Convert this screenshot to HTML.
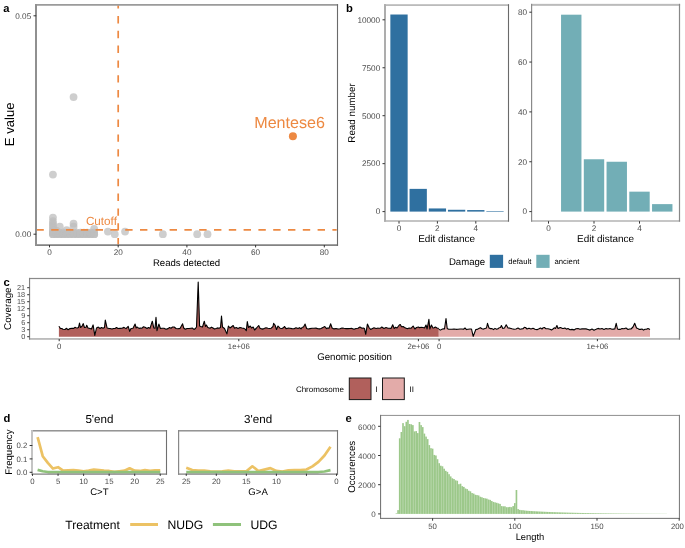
<!DOCTYPE html>
<html><head><meta charset="utf-8"><style>
html,body{margin:0;padding:0;background:#fff;}
svg{display:block;font-family:"Liberation Sans", sans-serif;text-rendering:geometricPrecision;will-change:transform;}
</style></head><body>
<svg width="685" height="548" viewBox="0 0 685 548">
<rect width="685" height="548" fill="#fff"/>
<text x="3.20" y="11.80" font-size="11.2" text-anchor="start" fill="#000" font-weight="bold">a</text>
<circle cx="73.55" cy="97.04" r="3.9" fill="#BDBDBD" fill-opacity="0.75"/>
<circle cx="52.94" cy="174.58" r="3.9" fill="#BDBDBD" fill-opacity="0.75"/>
<circle cx="52.94" cy="234.20" r="3.9" fill="#BDBDBD" fill-opacity="0.75"/>
<circle cx="52.94" cy="234.20" r="3.9" fill="#BDBDBD" fill-opacity="0.75"/>
<circle cx="52.94" cy="232.67" r="3.9" fill="#BDBDBD" fill-opacity="0.75"/>
<circle cx="56.37" cy="234.20" r="3.9" fill="#BDBDBD" fill-opacity="0.75"/>
<circle cx="56.37" cy="234.20" r="3.9" fill="#BDBDBD" fill-opacity="0.75"/>
<circle cx="56.37" cy="232.67" r="3.9" fill="#BDBDBD" fill-opacity="0.75"/>
<circle cx="59.80" cy="234.20" r="3.9" fill="#BDBDBD" fill-opacity="0.75"/>
<circle cx="59.80" cy="234.20" r="3.9" fill="#BDBDBD" fill-opacity="0.75"/>
<circle cx="59.80" cy="232.67" r="3.9" fill="#BDBDBD" fill-opacity="0.75"/>
<circle cx="63.24" cy="234.20" r="3.9" fill="#BDBDBD" fill-opacity="0.75"/>
<circle cx="63.24" cy="234.20" r="3.9" fill="#BDBDBD" fill-opacity="0.75"/>
<circle cx="63.24" cy="232.67" r="3.9" fill="#BDBDBD" fill-opacity="0.75"/>
<circle cx="66.67" cy="234.20" r="3.9" fill="#BDBDBD" fill-opacity="0.75"/>
<circle cx="66.67" cy="234.20" r="3.9" fill="#BDBDBD" fill-opacity="0.75"/>
<circle cx="66.67" cy="232.67" r="3.9" fill="#BDBDBD" fill-opacity="0.75"/>
<circle cx="70.11" cy="234.20" r="3.9" fill="#BDBDBD" fill-opacity="0.75"/>
<circle cx="70.11" cy="234.20" r="3.9" fill="#BDBDBD" fill-opacity="0.75"/>
<circle cx="70.11" cy="232.67" r="3.9" fill="#BDBDBD" fill-opacity="0.75"/>
<circle cx="73.55" cy="234.20" r="3.9" fill="#BDBDBD" fill-opacity="0.75"/>
<circle cx="73.55" cy="234.20" r="3.9" fill="#BDBDBD" fill-opacity="0.75"/>
<circle cx="73.55" cy="232.67" r="3.9" fill="#BDBDBD" fill-opacity="0.75"/>
<circle cx="76.98" cy="234.20" r="3.9" fill="#BDBDBD" fill-opacity="0.75"/>
<circle cx="76.98" cy="234.20" r="3.9" fill="#BDBDBD" fill-opacity="0.75"/>
<circle cx="76.98" cy="232.67" r="3.9" fill="#BDBDBD" fill-opacity="0.75"/>
<circle cx="80.41" cy="234.20" r="3.9" fill="#BDBDBD" fill-opacity="0.75"/>
<circle cx="80.41" cy="234.20" r="3.9" fill="#BDBDBD" fill-opacity="0.75"/>
<circle cx="80.41" cy="232.67" r="3.9" fill="#BDBDBD" fill-opacity="0.75"/>
<circle cx="83.85" cy="234.20" r="3.9" fill="#BDBDBD" fill-opacity="0.75"/>
<circle cx="83.85" cy="234.20" r="3.9" fill="#BDBDBD" fill-opacity="0.75"/>
<circle cx="83.85" cy="232.67" r="3.9" fill="#BDBDBD" fill-opacity="0.75"/>
<circle cx="87.28" cy="234.20" r="3.9" fill="#BDBDBD" fill-opacity="0.75"/>
<circle cx="87.28" cy="234.20" r="3.9" fill="#BDBDBD" fill-opacity="0.75"/>
<circle cx="87.28" cy="232.67" r="3.9" fill="#BDBDBD" fill-opacity="0.75"/>
<circle cx="90.72" cy="234.20" r="3.9" fill="#BDBDBD" fill-opacity="0.75"/>
<circle cx="90.72" cy="234.20" r="3.9" fill="#BDBDBD" fill-opacity="0.75"/>
<circle cx="90.72" cy="232.67" r="3.9" fill="#BDBDBD" fill-opacity="0.75"/>
<circle cx="94.16" cy="234.20" r="3.9" fill="#BDBDBD" fill-opacity="0.75"/>
<circle cx="94.16" cy="234.20" r="3.9" fill="#BDBDBD" fill-opacity="0.75"/>
<circle cx="94.16" cy="232.67" r="3.9" fill="#BDBDBD" fill-opacity="0.75"/>
<circle cx="52.94" cy="217.60" r="3.9" fill="#BDBDBD" fill-opacity="0.75"/>
<circle cx="52.94" cy="221.10" r="3.9" fill="#BDBDBD" fill-opacity="0.75"/>
<circle cx="52.94" cy="223.28" r="3.9" fill="#BDBDBD" fill-opacity="0.75"/>
<circle cx="52.94" cy="225.46" r="3.9" fill="#BDBDBD" fill-opacity="0.75"/>
<circle cx="52.94" cy="227.65" r="3.9" fill="#BDBDBD" fill-opacity="0.75"/>
<circle cx="52.94" cy="229.83" r="3.9" fill="#BDBDBD" fill-opacity="0.75"/>
<circle cx="52.94" cy="231.58" r="3.9" fill="#BDBDBD" fill-opacity="0.75"/>
<circle cx="56.37" cy="230.71" r="3.9" fill="#BDBDBD" fill-opacity="0.75"/>
<circle cx="59.80" cy="226.77" r="3.9" fill="#BDBDBD" fill-opacity="0.75"/>
<circle cx="66.67" cy="230.27" r="3.9" fill="#BDBDBD" fill-opacity="0.75"/>
<circle cx="73.55" cy="223.72" r="3.9" fill="#BDBDBD" fill-opacity="0.75"/>
<circle cx="73.55" cy="226.77" r="3.9" fill="#BDBDBD" fill-opacity="0.75"/>
<circle cx="94.16" cy="228.96" r="3.9" fill="#BDBDBD" fill-opacity="0.75"/>
<circle cx="107.90" cy="231.58" r="3.9" fill="#BDBDBD" fill-opacity="0.75"/>
<circle cx="114.77" cy="234.20" r="3.9" fill="#BDBDBD" fill-opacity="0.75"/>
<circle cx="125.07" cy="231.58" r="3.9" fill="#BDBDBD" fill-opacity="0.75"/>
<circle cx="162.86" cy="234.20" r="3.9" fill="#BDBDBD" fill-opacity="0.75"/>
<circle cx="197.21" cy="234.20" r="3.9" fill="#BDBDBD" fill-opacity="0.75"/>
<circle cx="207.51" cy="234.20" r="3.9" fill="#BDBDBD" fill-opacity="0.75"/>
<circle cx="292.9" cy="136.3" r="4.0" fill="#ED8942"/>
<text x="289.60" y="128.10" font-size="16.1" text-anchor="middle" fill="#ED8942">Mentese6</text>
<line x1="36.40" y1="229.9" x2="336.70" y2="229.9" stroke="#ED8942" stroke-width="1.7" stroke-dasharray="7.4 7.4"/>
<line x1="118.2" y1="244.50" x2="118.2" y2="5.50" stroke="#ED8942" stroke-width="1.7" stroke-dasharray="7.4 7.4" stroke-dashoffset="0.9"/>
<text x="101.40" y="225.20" font-size="11.7" text-anchor="middle" fill="#ED8942">Cutoff</text>
<rect x="35.00" y="4.15" width="303.05" height="1.50" fill="#8a8a8a"/>
<rect x="35.00" y="244.35" width="303.05" height="1.50" fill="#6f6f6f"/>
<rect x="35.00" y="4.15" width="2.00" height="241.70" fill="#909090"/>
<rect x="336.95" y="4.15" width="1.10" height="241.70" fill="#6a6a6a"/>
<line x1="33.50" y1="15.80" x2="36.20" y2="15.80" stroke="#333333" stroke-width="1.0"/>
<text x="31.20" y="18.63" font-size="8.2" text-anchor="end" fill="#4D4D4D">0.05</text>
<line x1="33.50" y1="234.20" x2="36.20" y2="234.20" stroke="#333333" stroke-width="1.0"/>
<text x="31.20" y="237.03" font-size="8.2" text-anchor="end" fill="#4D4D4D">0.00</text>
<line x1="49.50" y1="245.00" x2="49.50" y2="247.40" stroke="#333333" stroke-width="1.0"/>
<text x="49.50" y="254.50" font-size="8.2" text-anchor="middle" fill="#4D4D4D">0</text>
<line x1="118.20" y1="245.00" x2="118.20" y2="247.40" stroke="#333333" stroke-width="1.0"/>
<text x="118.20" y="254.50" font-size="8.2" text-anchor="middle" fill="#4D4D4D">20</text>
<line x1="186.90" y1="245.00" x2="186.90" y2="247.40" stroke="#333333" stroke-width="1.0"/>
<text x="186.90" y="254.50" font-size="8.2" text-anchor="middle" fill="#4D4D4D">40</text>
<line x1="255.60" y1="245.00" x2="255.60" y2="247.40" stroke="#333333" stroke-width="1.0"/>
<text x="255.60" y="254.50" font-size="8.2" text-anchor="middle" fill="#4D4D4D">60</text>
<line x1="324.30" y1="245.00" x2="324.30" y2="247.40" stroke="#333333" stroke-width="1.0"/>
<text x="324.30" y="254.50" font-size="8.2" text-anchor="middle" fill="#4D4D4D">80</text>
<text x="186.50" y="266.30" font-size="9.6" text-anchor="middle" fill="#000">Reads detected</text>
<text x="14.30" y="124.30" font-size="13.1" text-anchor="middle" fill="#000" transform="rotate(-90 14.3 124.3)">E value</text>
<text x="346.00" y="11.80" font-size="11.2" text-anchor="start" fill="#000" font-weight="bold">b</text>
<rect x="390.35" y="14.51" width="17.30" height="197.09" fill="#2F70A0"/>
<rect x="409.55" y="188.87" width="17.30" height="22.73" fill="#2F70A0"/>
<rect x="428.75" y="208.44" width="17.30" height="3.16" fill="#2F70A0"/>
<rect x="447.95" y="209.78" width="17.30" height="1.82" fill="#2F70A0"/>
<rect x="467.15" y="210.07" width="17.30" height="1.53" fill="#2F70A0"/>
<rect x="486.35" y="211.02" width="17.30" height="0.58" fill="#2F70A0"/>
<rect x="561.05" y="14.69" width="20.40" height="196.91" fill="#72AEB6"/>
<rect x="583.80" y="159.26" width="20.40" height="52.34" fill="#72AEB6"/>
<rect x="606.55" y="161.75" width="20.40" height="49.85" fill="#72AEB6"/>
<rect x="629.30" y="191.66" width="20.40" height="19.94" fill="#72AEB6"/>
<rect x="652.05" y="204.12" width="20.40" height="7.48" fill="#72AEB6"/>
<rect x="384.00" y="4.20" width="125.05" height="1.80" fill="#bbbbbb"/>
<rect x="384.00" y="220.35" width="125.05" height="1.30" fill="#a5a5a5"/>
<rect x="384.00" y="4.20" width="2.00" height="217.45" fill="#adadad"/>
<rect x="507.95" y="4.20" width="1.10" height="217.45" fill="#6a6a6a"/>
<rect x="531.00" y="3.85" width="149.10" height="2.00" fill="#bbbbbb"/>
<rect x="531.00" y="220.35" width="149.10" height="1.30" fill="#a8a8a8"/>
<rect x="531.00" y="3.85" width="1.20" height="217.80" fill="#8a8a8a"/>
<rect x="678.90" y="3.85" width="1.20" height="217.80" fill="#888888"/>
<line x1="382.50" y1="211.60" x2="384.90" y2="211.60" stroke="#333333" stroke-width="1.0"/>
<text x="380.20" y="214.43" font-size="8.2" text-anchor="end" fill="#4D4D4D">0</text>
<line x1="382.50" y1="163.65" x2="384.90" y2="163.65" stroke="#333333" stroke-width="1.0"/>
<text x="380.20" y="166.48" font-size="8.2" text-anchor="end" fill="#4D4D4D">2500</text>
<line x1="382.50" y1="115.70" x2="384.90" y2="115.70" stroke="#333333" stroke-width="1.0"/>
<text x="380.20" y="118.53" font-size="8.2" text-anchor="end" fill="#4D4D4D">5000</text>
<line x1="382.50" y1="67.75" x2="384.90" y2="67.75" stroke="#333333" stroke-width="1.0"/>
<text x="380.20" y="70.58" font-size="8.2" text-anchor="end" fill="#4D4D4D">7500</text>
<line x1="382.50" y1="19.80" x2="384.90" y2="19.80" stroke="#333333" stroke-width="1.0"/>
<text x="380.20" y="22.63" font-size="8.2" text-anchor="end" fill="#4D4D4D">10000</text>
<line x1="399.00" y1="221.20" x2="399.00" y2="223.60" stroke="#333333" stroke-width="1.0"/>
<text x="399.00" y="231.10" font-size="8.2" text-anchor="middle" fill="#4D4D4D">0</text>
<line x1="437.40" y1="221.20" x2="437.40" y2="223.60" stroke="#333333" stroke-width="1.0"/>
<text x="437.40" y="231.10" font-size="8.2" text-anchor="middle" fill="#4D4D4D">2</text>
<line x1="475.80" y1="221.20" x2="475.80" y2="223.60" stroke="#333333" stroke-width="1.0"/>
<text x="475.80" y="231.10" font-size="8.2" text-anchor="middle" fill="#4D4D4D">4</text>
<line x1="529.30" y1="211.60" x2="531.70" y2="211.60" stroke="#333333" stroke-width="1.0"/>
<text x="527.00" y="214.43" font-size="8.2" text-anchor="end" fill="#4D4D4D">0</text>
<line x1="529.30" y1="161.75" x2="531.70" y2="161.75" stroke="#333333" stroke-width="1.0"/>
<text x="527.00" y="164.58" font-size="8.2" text-anchor="end" fill="#4D4D4D">20</text>
<line x1="529.30" y1="111.90" x2="531.70" y2="111.90" stroke="#333333" stroke-width="1.0"/>
<text x="527.00" y="114.73" font-size="8.2" text-anchor="end" fill="#4D4D4D">40</text>
<line x1="529.30" y1="62.05" x2="531.70" y2="62.05" stroke="#333333" stroke-width="1.0"/>
<text x="527.00" y="64.88" font-size="8.2" text-anchor="end" fill="#4D4D4D">60</text>
<line x1="529.30" y1="12.20" x2="531.70" y2="12.20" stroke="#333333" stroke-width="1.0"/>
<text x="527.00" y="15.03" font-size="8.2" text-anchor="end" fill="#4D4D4D">80</text>
<line x1="548.50" y1="221.20" x2="548.50" y2="223.60" stroke="#333333" stroke-width="1.0"/>
<text x="548.50" y="231.10" font-size="8.2" text-anchor="middle" fill="#4D4D4D">0</text>
<line x1="594.00" y1="221.20" x2="594.00" y2="223.60" stroke="#333333" stroke-width="1.0"/>
<text x="594.00" y="231.10" font-size="8.2" text-anchor="middle" fill="#4D4D4D">2</text>
<line x1="639.50" y1="221.20" x2="639.50" y2="223.60" stroke="#333333" stroke-width="1.0"/>
<text x="639.50" y="231.10" font-size="8.2" text-anchor="middle" fill="#4D4D4D">4</text>
<text x="446.65" y="242.20" font-size="9.95" text-anchor="middle" fill="#000">Edit distance</text>
<text x="605.55" y="242.20" font-size="9.95" text-anchor="middle" fill="#000">Edit distance</text>
<text x="354.60" y="113.00" font-size="9.8" text-anchor="middle" fill="#000" transform="rotate(-90 354.6 113.0)">Read number</text>
<text x="448.90" y="265.40" font-size="9.6" text-anchor="start" fill="#000">Damage</text>
<rect x="489.80" y="254.80" width="13.30" height="13.10" fill="#2F70A0"/>
<text x="508.20" y="263.60" font-size="7.7" text-anchor="start" fill="#000">default</text>
<rect x="536.30" y="254.80" width="13.30" height="13.10" fill="#72AEB6"/>
<text x="554.50" y="263.60" font-size="7.7" text-anchor="start" fill="#000">ancient</text>
<text x="3.40" y="285.60" font-size="11.2" text-anchor="start" fill="#000" font-weight="bold">c</text>
<path d="M58.90,336.70 L58.90,326.20 L60.50,328.50 L61.75,328.51 L63.00,329.30 L65.00,329.50 L66.30,328.30 L68.10,329.70 L70.00,328.60 L72.00,328.30 L73.80,328.40 L74.90,327.33 L76.00,327.80 L77.25,328.03 L78.50,327.60 L79.50,323.10 L80.50,327.50 L82.00,326.30 L83.20,323.60 L84.50,327.50 L86.00,327.20 L86.70,325.30 L88.00,328.00 L90.00,328.50 L91.50,329.00 L93.10,324.90 L94.80,335.40 L96.50,328.00 L98.30,327.10 L100.00,328.50 L101.50,327.46 L103.00,328.30 L104.50,327.50 L105.30,320.10 L107.10,328.00 L108.55,328.33 L110.00,328.50 L112.00,329.00 L113.50,328.45 L115.00,328.50 L116.50,327.53 L118.00,328.50 L120.00,328.37 L122.00,328.20 L124.00,327.38 L126.00,328.60 L128.20,326.30 L129.70,331.40 L131.00,328.50 L133.00,328.30 L135.10,324.10 L136.20,328.00 L137.00,327.00 L139.00,328.40 L140.50,328.15 L142.00,328.20 L143.50,326.75 L145.00,327.20 L147.00,328.50 L148.50,327.50 L150.00,328.30 L152.30,321.20 L153.80,328.00 L155.00,328.30 L156.00,317.20 L157.00,330.70 L158.90,324.10 L160.40,328.50 L162.20,328.23 L164.00,328.30 L166.00,329.17 L168.00,328.60 L169.50,327.57 L171.00,328.20 L172.60,326.99 L174.20,327.00 L176.00,328.50 L178.00,328.73 L180.00,328.40 L182.60,323.80 L183.70,328.00 L185.35,329.23 L187.00,328.50 L189.00,328.52 L191.00,328.20 L192.47,328.07 L193.93,329.45 L195.40,328.50 L196.50,327.00 L198.20,282.00 L199.60,325.90 L200.60,326.40 L202.50,327.00 L204.30,321.20 L205.50,326.50 L206.40,325.00 L207.80,327.50 L210.00,328.30 L211.50,327.15 L213.00,328.00 L214.50,329.04 L216.00,328.50 L217.50,327.89 L219.00,328.20 L220.50,327.50 L221.50,316.10 L222.50,327.00 L224.50,328.50 L226.90,333.90 L228.40,326.00 L230.00,328.00 L233.20,325.50 L234.50,328.20 L236.25,327.57 L238.00,328.50 L240.00,327.41 L242.00,328.00 L244.00,328.40 L245.15,329.13 L246.30,330.70 L247.30,321.60 L248.50,327.50 L250.30,326.00 L251.50,328.00 L253.20,327.00 L254.60,330.00 L256.50,328.00 L258.70,325.50 L260.00,328.20 L262.00,329.10 L264.00,328.60 L266.00,327.70 L268.00,328.20 L269.50,328.43 L271.00,328.30 L273.00,326.50 L273.60,323.40 L275.00,325.00 L276.50,329.50 L278.00,326.00 L280.00,328.20 L282.00,328.50 L283.30,327.81 L284.60,326.50 L286.00,328.60 L288.00,328.17 L290.00,328.30 L292.00,328.66 L294.00,328.80 L296.00,327.69 L298.00,328.50 L299.50,327.68 L301.00,328.80 L302.25,327.25 L303.50,327.00 L305.10,324.10 L306.60,328.50 L308.30,328.95 L310.00,328.60 L312.00,328.29 L314.00,328.30 L316.00,328.14 L318.00,328.80 L319.50,328.84 L321.00,328.50 L322.90,327.40 L324.80,326.50 L326.50,328.60 L327.75,327.96 L329.00,328.20 L330.70,323.80 L332.10,328.00 L334.05,328.90 L336.00,328.50 L338.00,329.04 L340.00,328.70 L342.00,327.94 L344.00,328.30 L346.00,328.61 L348.00,328.60 L350.00,328.56 L352.00,328.40 L354.00,329.28 L356.00,328.50 L357.95,328.25 L359.90,327.00 L362.00,328.30 L363.25,327.93 L364.50,328.50 L365.70,334.30 L367.40,324.10 L369.30,328.00 L370.65,329.46 L372.00,328.80 L374.00,327.81 L376.00,328.50 L377.50,328.17 L379.00,328.20 L380.40,328.17 L381.80,327.00 L384.00,328.50 L386.00,327.58 L388.00,328.20 L389.50,328.28 L391.00,328.40 L392.70,324.80 L394.20,328.50 L395.60,327.24 L397.00,328.00 L399.30,325.00 L400.30,324.50 L401.50,326.80 L403.20,326.50 L404.50,327.50 L406.70,328.50 L407.85,328.62 L409.00,328.00 L411.00,328.30 L413.10,326.00 L414.90,329.00 L416.50,327.50 L418.40,327.00 L419.70,327.73 L421.00,327.30 L423.00,327.50 L424.50,328.00 L426.00,325.00 L427.10,329.00 L428.90,319.30 L429.80,329.00 L431.40,325.00 L433.00,328.00 L434.15,327.66 L435.30,327.00 L437.00,328.00 L438.80,328.50 L438.80,336.70 Z" fill="#B1605C"/>
<path d="M438.80,336.70 L438.80,329.30 L440.40,330.13 L442.00,329.30 L443.25,328.74 L444.50,329.00 L446.00,318.50 L447.20,328.50 L448.60,329.28 L450.00,329.20 L452.00,329.31 L454.00,329.00 L456.00,329.33 L458.00,329.30 L460.00,329.05 L462.00,329.00 L463.50,329.25 L465.00,328.00 L466.50,329.58 L468.00,329.20 L469.75,329.04 L471.50,329.00 L473.20,336.40 L475.80,329.50 L477.30,329.36 L478.80,328.50 L480.40,327.68 L482.00,328.80 L483.50,329.09 L485.00,328.50 L486.50,328.00 L487.50,323.40 L489.00,328.00 L490.50,328.62 L492.00,328.60 L493.50,329.58 L495.00,328.40 L496.50,329.31 L498.00,328.80 L499.25,327.68 L500.50,327.50 L501.40,325.50 L502.80,328.50 L504.50,328.00 L506.20,324.80 L508.00,328.00 L510.00,328.15 L512.00,328.80 L514.00,329.27 L516.00,329.00 L518.00,328.05 L520.00,329.20 L521.50,328.92 L523.00,328.80 L524.25,327.42 L525.50,327.50 L527.00,329.00 L529.00,328.16 L531.00,329.00 L533.00,328.18 L535.00,329.30 L537.00,329.64 L539.00,328.80 L540.50,328.08 L542.00,329.00 L543.25,327.69 L544.50,327.50 L546.00,328.80 L548.00,328.76 L550.00,329.20 L551.50,329.92 L553.00,329.00 L554.25,327.83 L555.50,328.50 L556.90,325.50 L558.00,328.50 L559.25,327.89 L560.50,327.50 L562.50,328.50 L563.70,328.36 L564.90,328.00 L566.45,329.14 L568.00,328.60 L570.00,329.70 L572.00,329.40 L574.00,329.90 L576.00,328.80 L578.00,328.56 L580.00,329.30 L582.00,328.91 L584.00,328.90 L586.00,328.89 L588.00,329.50 L590.00,330.10 L592.00,329.00 L594.00,330.16 L596.00,329.30 L598.00,328.38 L600.00,329.00 L602.00,328.49 L604.00,329.40 L606.00,328.61 L608.00,329.00 L610.00,328.56 L612.00,329.30 L613.40,329.12 L614.80,329.00 L616.20,323.30 L617.50,329.00 L618.75,329.40 L620.00,329.40 L622.00,328.58 L624.00,328.80 L626.00,328.06 L628.00,329.50 L629.50,329.07 L631.00,329.00 L633.00,327.00 L634.70,323.30 L636.50,328.00 L637.75,328.41 L639.00,329.40 L640.50,329.35 L642.00,329.00 L643.50,330.10 L645.00,329.20 L646.50,329.27 L648.00,328.50 L650.00,329.40 L650.00,336.70 Z" fill="#E3ABA9"/>
<path d="M58.90,326.20 L60.50,328.50 L61.75,328.51 L63.00,329.30 L65.00,329.50 L66.30,328.30 L68.10,329.70 L70.00,328.60 L72.00,328.30 L73.80,328.40 L74.90,327.33 L76.00,327.80 L77.25,328.03 L78.50,327.60 L79.50,323.10 L80.50,327.50 L82.00,326.30 L83.20,323.60 L84.50,327.50 L86.00,327.20 L86.70,325.30 L88.00,328.00 L90.00,328.50 L91.50,329.00 L93.10,324.90 L94.80,335.40 L96.50,328.00 L98.30,327.10 L100.00,328.50 L101.50,327.46 L103.00,328.30 L104.50,327.50 L105.30,320.10 L107.10,328.00 L108.55,328.33 L110.00,328.50 L112.00,329.00 L113.50,328.45 L115.00,328.50 L116.50,327.53 L118.00,328.50 L120.00,328.37 L122.00,328.20 L124.00,327.38 L126.00,328.60 L128.20,326.30 L129.70,331.40 L131.00,328.50 L133.00,328.30 L135.10,324.10 L136.20,328.00 L137.00,327.00 L139.00,328.40 L140.50,328.15 L142.00,328.20 L143.50,326.75 L145.00,327.20 L147.00,328.50 L148.50,327.50 L150.00,328.30 L152.30,321.20 L153.80,328.00 L155.00,328.30 L156.00,317.20 L157.00,330.70 L158.90,324.10 L160.40,328.50 L162.20,328.23 L164.00,328.30 L166.00,329.17 L168.00,328.60 L169.50,327.57 L171.00,328.20 L172.60,326.99 L174.20,327.00 L176.00,328.50 L178.00,328.73 L180.00,328.40 L182.60,323.80 L183.70,328.00 L185.35,329.23 L187.00,328.50 L189.00,328.52 L191.00,328.20 L192.47,328.07 L193.93,329.45 L195.40,328.50 L196.50,327.00 L198.20,282.00 L199.60,325.90 L200.60,326.40 L202.50,327.00 L204.30,321.20 L205.50,326.50 L206.40,325.00 L207.80,327.50 L210.00,328.30 L211.50,327.15 L213.00,328.00 L214.50,329.04 L216.00,328.50 L217.50,327.89 L219.00,328.20 L220.50,327.50 L221.50,316.10 L222.50,327.00 L224.50,328.50 L226.90,333.90 L228.40,326.00 L230.00,328.00 L233.20,325.50 L234.50,328.20 L236.25,327.57 L238.00,328.50 L240.00,327.41 L242.00,328.00 L244.00,328.40 L245.15,329.13 L246.30,330.70 L247.30,321.60 L248.50,327.50 L250.30,326.00 L251.50,328.00 L253.20,327.00 L254.60,330.00 L256.50,328.00 L258.70,325.50 L260.00,328.20 L262.00,329.10 L264.00,328.60 L266.00,327.70 L268.00,328.20 L269.50,328.43 L271.00,328.30 L273.00,326.50 L273.60,323.40 L275.00,325.00 L276.50,329.50 L278.00,326.00 L280.00,328.20 L282.00,328.50 L283.30,327.81 L284.60,326.50 L286.00,328.60 L288.00,328.17 L290.00,328.30 L292.00,328.66 L294.00,328.80 L296.00,327.69 L298.00,328.50 L299.50,327.68 L301.00,328.80 L302.25,327.25 L303.50,327.00 L305.10,324.10 L306.60,328.50 L308.30,328.95 L310.00,328.60 L312.00,328.29 L314.00,328.30 L316.00,328.14 L318.00,328.80 L319.50,328.84 L321.00,328.50 L322.90,327.40 L324.80,326.50 L326.50,328.60 L327.75,327.96 L329.00,328.20 L330.70,323.80 L332.10,328.00 L334.05,328.90 L336.00,328.50 L338.00,329.04 L340.00,328.70 L342.00,327.94 L344.00,328.30 L346.00,328.61 L348.00,328.60 L350.00,328.56 L352.00,328.40 L354.00,329.28 L356.00,328.50 L357.95,328.25 L359.90,327.00 L362.00,328.30 L363.25,327.93 L364.50,328.50 L365.70,334.30 L367.40,324.10 L369.30,328.00 L370.65,329.46 L372.00,328.80 L374.00,327.81 L376.00,328.50 L377.50,328.17 L379.00,328.20 L380.40,328.17 L381.80,327.00 L384.00,328.50 L386.00,327.58 L388.00,328.20 L389.50,328.28 L391.00,328.40 L392.70,324.80 L394.20,328.50 L395.60,327.24 L397.00,328.00 L399.30,325.00 L400.30,324.50 L401.50,326.80 L403.20,326.50 L404.50,327.50 L406.70,328.50 L407.85,328.62 L409.00,328.00 L411.00,328.30 L413.10,326.00 L414.90,329.00 L416.50,327.50 L418.40,327.00 L419.70,327.73 L421.00,327.30 L423.00,327.50 L424.50,328.00 L426.00,325.00 L427.10,329.00 L428.90,319.30 L429.80,329.00 L431.40,325.00 L433.00,328.00 L434.15,327.66 L435.30,327.00 L437.00,328.00 L438.80,328.50" fill="none" stroke="#000" stroke-width="1.1" stroke-linejoin="round"/>
<path d="M438.80,329.30 L440.40,330.13 L442.00,329.30 L443.25,328.74 L444.50,329.00 L446.00,318.50 L447.20,328.50 L448.60,329.28 L450.00,329.20 L452.00,329.31 L454.00,329.00 L456.00,329.33 L458.00,329.30 L460.00,329.05 L462.00,329.00 L463.50,329.25 L465.00,328.00 L466.50,329.58 L468.00,329.20 L469.75,329.04 L471.50,329.00 L473.20,336.40 L475.80,329.50 L477.30,329.36 L478.80,328.50 L480.40,327.68 L482.00,328.80 L483.50,329.09 L485.00,328.50 L486.50,328.00 L487.50,323.40 L489.00,328.00 L490.50,328.62 L492.00,328.60 L493.50,329.58 L495.00,328.40 L496.50,329.31 L498.00,328.80 L499.25,327.68 L500.50,327.50 L501.40,325.50 L502.80,328.50 L504.50,328.00 L506.20,324.80 L508.00,328.00 L510.00,328.15 L512.00,328.80 L514.00,329.27 L516.00,329.00 L518.00,328.05 L520.00,329.20 L521.50,328.92 L523.00,328.80 L524.25,327.42 L525.50,327.50 L527.00,329.00 L529.00,328.16 L531.00,329.00 L533.00,328.18 L535.00,329.30 L537.00,329.64 L539.00,328.80 L540.50,328.08 L542.00,329.00 L543.25,327.69 L544.50,327.50 L546.00,328.80 L548.00,328.76 L550.00,329.20 L551.50,329.92 L553.00,329.00 L554.25,327.83 L555.50,328.50 L556.90,325.50 L558.00,328.50 L559.25,327.89 L560.50,327.50 L562.50,328.50 L563.70,328.36 L564.90,328.00 L566.45,329.14 L568.00,328.60 L570.00,329.70 L572.00,329.40 L574.00,329.90 L576.00,328.80 L578.00,328.56 L580.00,329.30 L582.00,328.91 L584.00,328.90 L586.00,328.89 L588.00,329.50 L590.00,330.10 L592.00,329.00 L594.00,330.16 L596.00,329.30 L598.00,328.38 L600.00,329.00 L602.00,328.49 L604.00,329.40 L606.00,328.61 L608.00,329.00 L610.00,328.56 L612.00,329.30 L613.40,329.12 L614.80,329.00 L616.20,323.30 L617.50,329.00 L618.75,329.40 L620.00,329.40 L622.00,328.58 L624.00,328.80 L626.00,328.06 L628.00,329.50 L629.50,329.07 L631.00,329.00 L633.00,327.00 L634.70,323.30 L636.50,328.00 L637.75,328.41 L639.00,329.40 L640.50,329.35 L642.00,329.00 L643.50,330.10 L645.00,329.20 L646.50,329.27 L648.00,328.50 L650.00,329.40" fill="none" stroke="#000" stroke-width="1.1" stroke-linejoin="round"/>
<rect x="28.98" y="277.90" width="651.12" height="1.20" fill="#8a8a8a"/>
<rect x="28.98" y="338.30" width="651.12" height="1.30" fill="#a0a0a0"/>
<rect x="28.98" y="277.90" width="1.15" height="61.70" fill="#808080"/>
<rect x="678.90" y="277.90" width="1.20" height="61.70" fill="#808080"/>
<line x1="27.20" y1="336.70" x2="29.40" y2="336.70" stroke="#333333" stroke-width="1.0"/>
<text x="25.20" y="339.22" font-size="7.3" text-anchor="end" fill="#4D4D4D">0</text>
<line x1="27.20" y1="329.70" x2="29.40" y2="329.70" stroke="#333333" stroke-width="1.0"/>
<text x="25.20" y="332.22" font-size="7.3" text-anchor="end" fill="#4D4D4D">3</text>
<line x1="27.20" y1="322.70" x2="29.40" y2="322.70" stroke="#333333" stroke-width="1.0"/>
<text x="25.20" y="325.22" font-size="7.3" text-anchor="end" fill="#4D4D4D">6</text>
<line x1="27.20" y1="315.70" x2="29.40" y2="315.70" stroke="#333333" stroke-width="1.0"/>
<text x="25.20" y="318.22" font-size="7.3" text-anchor="end" fill="#4D4D4D">9</text>
<line x1="27.20" y1="308.70" x2="29.40" y2="308.70" stroke="#333333" stroke-width="1.0"/>
<text x="25.20" y="311.22" font-size="7.3" text-anchor="end" fill="#4D4D4D">12</text>
<line x1="27.20" y1="301.70" x2="29.40" y2="301.70" stroke="#333333" stroke-width="1.0"/>
<text x="25.20" y="304.22" font-size="7.3" text-anchor="end" fill="#4D4D4D">15</text>
<line x1="27.20" y1="294.71" x2="29.40" y2="294.71" stroke="#333333" stroke-width="1.0"/>
<text x="25.20" y="297.22" font-size="7.3" text-anchor="end" fill="#4D4D4D">18</text>
<line x1="27.20" y1="287.71" x2="29.40" y2="287.71" stroke="#333333" stroke-width="1.0"/>
<text x="25.20" y="290.23" font-size="7.3" text-anchor="end" fill="#4D4D4D">21</text>
<line x1="59.20" y1="339.00" x2="59.20" y2="341.20" stroke="#333333" stroke-width="1.0"/>
<text x="59.20" y="349.00" font-size="7.8" text-anchor="middle" fill="#4D4D4D">0</text>
<line x1="238.80" y1="339.00" x2="238.80" y2="341.20" stroke="#333333" stroke-width="1.0"/>
<text x="238.80" y="349.00" font-size="7.8" text-anchor="middle" fill="#4D4D4D">1e+06</text>
<line x1="418.40" y1="339.00" x2="418.40" y2="341.20" stroke="#333333" stroke-width="1.0"/>
<text x="418.40" y="349.00" font-size="7.8" text-anchor="middle" fill="#4D4D4D">2e+06</text>
<line x1="439.10" y1="339.00" x2="439.10" y2="341.20" stroke="#333333" stroke-width="1.0"/>
<text x="439.10" y="349.00" font-size="7.8" text-anchor="middle" fill="#4D4D4D">0</text>
<line x1="597.40" y1="339.00" x2="597.40" y2="341.20" stroke="#333333" stroke-width="1.0"/>
<text x="597.40" y="349.00" font-size="7.8" text-anchor="middle" fill="#4D4D4D">1e+06</text>
<text x="354.60" y="360.00" font-size="9.7" text-anchor="middle" fill="#000">Genomic position</text>
<text x="11.40" y="308.70" font-size="9.8" text-anchor="middle" fill="#000" transform="rotate(-90 11.4 308.7)">Coverage</text>
<text x="295.90" y="392.20" font-size="8.0" text-anchor="start" fill="#000">Chromosome</text>
<rect x="349.3" y="378.0" width="21.7" height="21.6" fill="#B1605C" stroke="#1a1a1a" stroke-width="1"/>
<text x="375.40" y="392.20" font-size="8.0" text-anchor="start" fill="#000">I</text>
<rect x="382.5" y="378.0" width="21.8" height="21.6" fill="#E3ABA9" stroke="#1a1a1a" stroke-width="1"/>
<text x="409.60" y="392.20" font-size="8.0" text-anchor="start" fill="#000">II</text>
<text x="3.40" y="422.00" font-size="11.2" text-anchor="start" fill="#000" font-weight="bold">d</text>
<path d="M37.61,437.19 L42.72,456.22 L47.83,462.92 L52.94,468.55 L58.05,467.21 L63.16,470.69 L68.27,470.42 L73.38,470.16 L78.49,470.69 L83.60,471.23 L88.71,470.69 L93.82,469.62 L98.93,470.16 L104.04,470.69 L109.15,470.96 L114.26,471.90 L119.37,471.23 L124.48,470.69 L129.59,468.28 L134.70,470.69 L139.81,470.96 L144.92,470.02 L150.03,470.83 L155.14,470.29 L160.25,470.42" fill="none" stroke="#ECC264" stroke-width="2.7" stroke-linejoin="round"/>
<path d="M37.61,469.89 L42.72,471.23 L47.83,472.03 L52.94,472.03 L58.05,472.03 L63.16,472.03 L68.27,472.03 L73.38,472.03 L78.49,472.03 L83.60,472.03 L88.71,472.03 L93.82,472.03 L98.93,472.03 L104.04,472.03 L109.15,472.03 L114.26,472.03 L119.37,472.03 L124.48,472.03 L129.59,472.03 L134.70,472.03 L139.81,472.03 L144.92,472.03 L150.03,472.03 L155.14,472.03 L160.25,472.03" fill="none" stroke="#8FC27B" stroke-width="2.7" stroke-linejoin="round"/>
<path d="M330.49,446.84 L324.48,455.55 L318.47,461.85 L312.46,466.40 L306.45,469.49 L300.44,470.02 L294.43,470.16 L288.42,470.29 L282.41,471.50 L276.40,470.96 L270.39,468.15 L264.38,469.62 L258.37,470.96 L252.36,466.27 L246.35,471.23 L240.34,471.23 L234.33,471.23 L228.32,470.69 L222.31,471.36 L216.30,471.50 L210.29,471.23 L204.28,470.69 L198.27,470.56 L192.26,470.02 L186.25,467.74" fill="none" stroke="#ECC264" stroke-width="2.7" stroke-linejoin="round"/>
<path d="M330.49,470.16 L324.48,471.50 L318.47,472.03 L312.46,472.03 L306.45,472.03 L300.44,472.03 L294.43,472.03 L288.42,472.03 L282.41,472.03 L276.40,472.03 L270.39,472.03 L264.38,472.03 L258.37,472.03 L252.36,472.03 L246.35,472.03 L240.34,472.03 L234.33,472.03 L228.32,472.03 L222.31,472.03 L216.30,472.03 L210.29,472.03 L204.28,472.03 L198.27,472.03 L192.26,472.03 L186.25,472.03" fill="none" stroke="#8FC27B" stroke-width="2.7" stroke-linejoin="round"/>
<rect x="31.00" y="430.10" width="136.05" height="1.40" fill="#8a8a8a"/>
<rect x="31.00" y="473.50" width="136.05" height="1.20" fill="#7a7a7a"/>
<rect x="31.00" y="430.10" width="2.00" height="44.60" fill="#c4c4c4"/>
<rect x="165.95" y="430.10" width="1.10" height="44.60" fill="#707070"/>
<rect x="178.00" y="430.10" width="160.05" height="1.40" fill="#8a8a8a"/>
<rect x="178.00" y="473.50" width="160.05" height="1.20" fill="#7a7a7a"/>
<rect x="178.00" y="430.10" width="1.20" height="44.60" fill="#888888"/>
<rect x="336.95" y="430.10" width="1.10" height="44.60" fill="#777777"/>
<line x1="29.60" y1="472.30" x2="32.40" y2="472.30" stroke="#333333" stroke-width="1.0"/>
<text x="27.30" y="474.99" font-size="7.8" text-anchor="end" fill="#4D4D4D">0.0</text>
<line x1="29.60" y1="458.90" x2="32.40" y2="458.90" stroke="#333333" stroke-width="1.0"/>
<text x="27.30" y="461.59" font-size="7.8" text-anchor="end" fill="#4D4D4D">0.1</text>
<line x1="29.60" y1="445.50" x2="32.40" y2="445.50" stroke="#333333" stroke-width="1.0"/>
<text x="27.30" y="448.19" font-size="7.8" text-anchor="end" fill="#4D4D4D">0.2</text>
<line x1="32.50" y1="473.70" x2="32.50" y2="475.90" stroke="#333333" stroke-width="1.0"/>
<text x="32.50" y="484.30" font-size="7.8" text-anchor="middle" fill="#4D4D4D">0</text>
<line x1="58.05" y1="473.70" x2="58.05" y2="475.90" stroke="#333333" stroke-width="1.0"/>
<text x="58.05" y="484.30" font-size="7.8" text-anchor="middle" fill="#4D4D4D">5</text>
<line x1="83.60" y1="473.70" x2="83.60" y2="475.90" stroke="#333333" stroke-width="1.0"/>
<text x="83.60" y="484.30" font-size="7.8" text-anchor="middle" fill="#4D4D4D">10</text>
<line x1="109.15" y1="473.70" x2="109.15" y2="475.90" stroke="#333333" stroke-width="1.0"/>
<text x="109.15" y="484.30" font-size="7.8" text-anchor="middle" fill="#4D4D4D">15</text>
<line x1="134.70" y1="473.70" x2="134.70" y2="475.90" stroke="#333333" stroke-width="1.0"/>
<text x="134.70" y="484.30" font-size="7.8" text-anchor="middle" fill="#4D4D4D">20</text>
<line x1="160.25" y1="473.70" x2="160.25" y2="475.90" stroke="#333333" stroke-width="1.0"/>
<text x="160.25" y="484.30" font-size="7.8" text-anchor="middle" fill="#4D4D4D">25</text>
<line x1="186.25" y1="473.70" x2="186.25" y2="475.90" stroke="#333333" stroke-width="1.0"/>
<text x="186.25" y="484.30" font-size="7.8" text-anchor="middle" fill="#4D4D4D">25</text>
<line x1="216.30" y1="473.70" x2="216.30" y2="475.90" stroke="#333333" stroke-width="1.0"/>
<text x="216.30" y="484.30" font-size="7.8" text-anchor="middle" fill="#4D4D4D">20</text>
<line x1="246.35" y1="473.70" x2="246.35" y2="475.90" stroke="#333333" stroke-width="1.0"/>
<text x="246.35" y="484.30" font-size="7.8" text-anchor="middle" fill="#4D4D4D">15</text>
<line x1="276.40" y1="473.70" x2="276.40" y2="475.90" stroke="#333333" stroke-width="1.0"/>
<text x="276.40" y="484.30" font-size="7.8" text-anchor="middle" fill="#4D4D4D">10</text>
<line x1="306.45" y1="473.70" x2="306.45" y2="475.90" stroke="#333333" stroke-width="1.0"/>
<line x1="336.50" y1="473.70" x2="336.50" y2="475.90" stroke="#333333" stroke-width="1.0"/>
<text x="336.50" y="484.30" font-size="7.8" text-anchor="middle" fill="#4D4D4D">0</text>
<text x="99.40" y="422.90" font-size="11.6" text-anchor="middle" fill="#000">5'end</text>
<text x="258.10" y="422.90" font-size="11.6" text-anchor="middle" fill="#000">3'end</text>
<text x="99.40" y="495.00" font-size="9.6" text-anchor="middle" fill="#000">C&gt;T</text>
<text x="258.10" y="495.00" font-size="9.6" text-anchor="middle" fill="#000">G&gt;A</text>
<text x="11.60" y="452.20" font-size="9.6" text-anchor="middle" fill="#000" transform="rotate(-90 11.6 452.2)">Frequency</text>
<text x="65.30" y="528.90" font-size="12.05" text-anchor="start" fill="#000">Treatment</text>
<line x1="130.20" y1="524.50" x2="158.00" y2="524.50" stroke="#ECC264" stroke-width="3.0"/>
<text x="167.40" y="528.90" font-size="12.2" text-anchor="start" fill="#000">NUDG</text>
<line x1="212.90" y1="524.50" x2="241.00" y2="524.50" stroke="#8FC27B" stroke-width="3.0"/>
<text x="250.40" y="528.90" font-size="12.2" text-anchor="start" fill="#000">UDG</text>
<text x="345.40" y="421.80" font-size="11.2" text-anchor="start" fill="#000" font-weight="bold">e</text>
<rect x="395.61" y="513.32" width="1.64" height="0.58" fill="#9CC88A"/>
<rect x="397.26" y="510.10" width="1.64" height="3.80" fill="#9CC88A"/>
<rect x="398.90" y="438.30" width="1.64" height="75.60" fill="#9CC88A"/>
<rect x="400.54" y="431.99" width="1.64" height="81.91" fill="#9CC88A"/>
<rect x="402.19" y="423.10" width="1.64" height="90.80" fill="#9CC88A"/>
<rect x="403.83" y="426.20" width="1.64" height="87.70" fill="#9CC88A"/>
<rect x="405.48" y="421.80" width="1.64" height="92.10" fill="#9CC88A"/>
<rect x="407.12" y="419.91" width="1.64" height="93.99" fill="#9CC88A"/>
<rect x="408.76" y="423.99" width="1.64" height="89.91" fill="#9CC88A"/>
<rect x="410.41" y="424.30" width="1.64" height="89.60" fill="#9CC88A"/>
<rect x="412.05" y="425.10" width="1.64" height="88.80" fill="#9CC88A"/>
<rect x="413.70" y="431.40" width="1.64" height="82.50" fill="#9CC88A"/>
<rect x="415.34" y="431.10" width="1.64" height="82.80" fill="#9CC88A"/>
<rect x="416.98" y="433.10" width="1.64" height="80.80" fill="#9CC88A"/>
<rect x="418.63" y="421.99" width="1.64" height="91.91" fill="#9CC88A"/>
<rect x="420.27" y="425.13" width="1.64" height="88.77" fill="#9CC88A"/>
<rect x="421.92" y="427.10" width="1.64" height="86.80" fill="#9CC88A"/>
<rect x="423.56" y="433.60" width="1.64" height="80.30" fill="#9CC88A"/>
<rect x="425.20" y="436.59" width="1.64" height="77.31" fill="#9CC88A"/>
<rect x="426.85" y="439.10" width="1.64" height="74.80" fill="#9CC88A"/>
<rect x="428.49" y="445.10" width="1.64" height="68.80" fill="#9CC88A"/>
<rect x="430.14" y="448.20" width="1.64" height="65.70" fill="#9CC88A"/>
<rect x="431.78" y="448.64" width="1.64" height="65.26" fill="#9CC88A"/>
<rect x="433.42" y="454.92" width="1.64" height="58.98" fill="#9CC88A"/>
<rect x="435.07" y="455.50" width="1.64" height="58.40" fill="#9CC88A"/>
<rect x="436.71" y="459.19" width="1.64" height="54.71" fill="#9CC88A"/>
<rect x="438.36" y="463.19" width="1.64" height="50.71" fill="#9CC88A"/>
<rect x="440.00" y="465.72" width="1.64" height="48.18" fill="#9CC88A"/>
<rect x="441.64" y="466.30" width="1.64" height="47.60" fill="#9CC88A"/>
<rect x="443.29" y="468.70" width="1.64" height="45.20" fill="#9CC88A"/>
<rect x="444.93" y="470.83" width="1.64" height="43.07" fill="#9CC88A"/>
<rect x="446.58" y="471.85" width="1.64" height="42.05" fill="#9CC88A"/>
<rect x="448.22" y="474.20" width="1.64" height="39.70" fill="#9CC88A"/>
<rect x="449.86" y="476.41" width="1.64" height="37.49" fill="#9CC88A"/>
<rect x="451.51" y="478.28" width="1.64" height="35.62" fill="#9CC88A"/>
<rect x="453.15" y="479.01" width="1.64" height="34.89" fill="#9CC88A"/>
<rect x="454.80" y="480.32" width="1.64" height="33.58" fill="#9CC88A"/>
<rect x="456.44" y="480.76" width="1.64" height="33.14" fill="#9CC88A"/>
<rect x="458.08" y="484.20" width="1.64" height="29.70" fill="#9CC88A"/>
<rect x="459.73" y="483.71" width="1.64" height="30.19" fill="#9CC88A"/>
<rect x="461.37" y="486.16" width="1.64" height="27.74" fill="#9CC88A"/>
<rect x="463.02" y="486.89" width="1.64" height="27.01" fill="#9CC88A"/>
<rect x="464.66" y="488.50" width="1.64" height="25.40" fill="#9CC88A"/>
<rect x="466.30" y="489.08" width="1.64" height="24.82" fill="#9CC88A"/>
<rect x="467.95" y="490.69" width="1.64" height="23.21" fill="#9CC88A"/>
<rect x="469.59" y="491.34" width="1.64" height="22.56" fill="#9CC88A"/>
<rect x="471.24" y="493.02" width="1.64" height="20.88" fill="#9CC88A"/>
<rect x="472.88" y="493.61" width="1.64" height="20.29" fill="#9CC88A"/>
<rect x="474.52" y="494.77" width="1.64" height="19.13" fill="#9CC88A"/>
<rect x="476.17" y="495.07" width="1.64" height="18.83" fill="#9CC88A"/>
<rect x="477.81" y="495.43" width="1.64" height="18.47" fill="#9CC88A"/>
<rect x="479.46" y="496.75" width="1.64" height="17.15" fill="#9CC88A"/>
<rect x="481.10" y="497.26" width="1.64" height="16.64" fill="#9CC88A"/>
<rect x="482.74" y="497.99" width="1.64" height="15.91" fill="#9CC88A"/>
<rect x="484.39" y="498.35" width="1.64" height="15.55" fill="#9CC88A"/>
<rect x="486.03" y="498.64" width="1.64" height="15.26" fill="#9CC88A"/>
<rect x="487.68" y="499.52" width="1.64" height="14.38" fill="#9CC88A"/>
<rect x="489.32" y="499.88" width="1.64" height="14.02" fill="#9CC88A"/>
<rect x="490.96" y="501.05" width="1.64" height="12.85" fill="#9CC88A"/>
<rect x="492.61" y="501.93" width="1.64" height="11.97" fill="#9CC88A"/>
<rect x="494.25" y="502.37" width="1.64" height="11.53" fill="#9CC88A"/>
<rect x="495.90" y="502.80" width="1.64" height="11.10" fill="#9CC88A"/>
<rect x="497.54" y="503.39" width="1.64" height="10.51" fill="#9CC88A"/>
<rect x="499.18" y="503.90" width="1.64" height="10.00" fill="#9CC88A"/>
<rect x="500.83" y="506.10" width="1.64" height="7.80" fill="#9CC88A"/>
<rect x="502.47" y="506.31" width="1.64" height="7.59" fill="#9CC88A"/>
<rect x="504.12" y="506.31" width="1.64" height="7.59" fill="#9CC88A"/>
<rect x="505.76" y="507.20" width="1.64" height="6.70" fill="#9CC88A"/>
<rect x="507.40" y="507.20" width="1.64" height="6.70" fill="#9CC88A"/>
<rect x="509.05" y="506.91" width="1.64" height="6.99" fill="#9CC88A"/>
<rect x="510.69" y="507.20" width="1.64" height="6.70" fill="#9CC88A"/>
<rect x="512.34" y="506.10" width="1.64" height="7.80" fill="#9CC88A"/>
<rect x="513.98" y="503.10" width="1.64" height="10.80" fill="#9CC88A"/>
<rect x="515.62" y="490.00" width="1.64" height="23.90" fill="#9CC88A"/>
<rect x="517.27" y="509.10" width="1.64" height="4.80" fill="#9CC88A"/>
<rect x="518.91" y="509.90" width="1.64" height="4.00" fill="#9CC88A"/>
<rect x="520.56" y="510.21" width="1.64" height="3.69" fill="#9CC88A"/>
<rect x="522.20" y="510.21" width="1.64" height="3.69" fill="#9CC88A"/>
<rect x="523.84" y="510.50" width="1.64" height="3.40" fill="#9CC88A"/>
<rect x="525.49" y="510.70" width="1.64" height="3.20" fill="#9CC88A"/>
<rect x="527.13" y="510.83" width="1.64" height="3.07" fill="#9CC88A"/>
<rect x="528.78" y="510.95" width="1.64" height="2.95" fill="#9CC88A"/>
<rect x="530.42" y="511.05" width="1.64" height="2.85" fill="#9CC88A"/>
<rect x="532.06" y="511.16" width="1.64" height="2.74" fill="#9CC88A"/>
<rect x="533.71" y="511.24" width="1.64" height="2.66" fill="#9CC88A"/>
<rect x="535.35" y="511.34" width="1.64" height="2.56" fill="#9CC88A"/>
<rect x="537.00" y="511.43" width="1.64" height="2.47" fill="#9CC88A"/>
<rect x="538.64" y="511.52" width="1.64" height="2.38" fill="#9CC88A"/>
<rect x="540.28" y="511.61" width="1.64" height="2.29" fill="#9CC88A"/>
<rect x="541.93" y="511.68" width="1.64" height="2.22" fill="#9CC88A"/>
<rect x="543.57" y="511.77" width="1.64" height="2.13" fill="#9CC88A"/>
<rect x="545.22" y="511.84" width="1.64" height="2.06" fill="#9CC88A"/>
<rect x="546.86" y="511.91" width="1.64" height="1.99" fill="#9CC88A"/>
<rect x="548.50" y="511.97" width="1.64" height="1.93" fill="#9CC88A"/>
<rect x="550.15" y="512.05" width="1.64" height="1.85" fill="#9CC88A"/>
<rect x="551.79" y="512.12" width="1.64" height="1.78" fill="#9CC88A"/>
<rect x="553.44" y="512.18" width="1.64" height="1.72" fill="#9CC88A"/>
<rect x="555.08" y="512.24" width="1.64" height="1.66" fill="#9CC88A"/>
<rect x="556.72" y="512.29" width="1.64" height="1.61" fill="#9CC88A"/>
<rect x="558.37" y="512.35" width="1.64" height="1.55" fill="#9CC88A"/>
<rect x="560.01" y="512.41" width="1.64" height="1.49" fill="#9CC88A"/>
<rect x="561.66" y="512.45" width="1.64" height="1.45" fill="#9CC88A"/>
<rect x="563.30" y="512.51" width="1.64" height="1.39" fill="#9CC88A"/>
<rect x="564.94" y="512.56" width="1.64" height="1.34" fill="#9CC88A"/>
<rect x="566.59" y="512.60" width="1.64" height="1.30" fill="#9CC88A"/>
<rect x="568.23" y="512.66" width="1.64" height="1.24" fill="#9CC88A"/>
<rect x="569.88" y="512.70" width="1.64" height="1.20" fill="#9CC88A"/>
<rect x="571.52" y="512.73" width="1.64" height="1.17" fill="#9CC88A"/>
<rect x="573.16" y="512.78" width="1.64" height="1.12" fill="#9CC88A"/>
<rect x="574.81" y="512.82" width="1.64" height="1.08" fill="#9CC88A"/>
<rect x="576.45" y="512.86" width="1.64" height="1.04" fill="#9CC88A"/>
<rect x="578.10" y="512.89" width="1.64" height="1.01" fill="#9CC88A"/>
<rect x="579.74" y="512.94" width="1.64" height="0.96" fill="#9CC88A"/>
<rect x="581.38" y="512.97" width="1.64" height="0.93" fill="#9CC88A"/>
<rect x="583.03" y="512.99" width="1.64" height="0.91" fill="#9CC88A"/>
<rect x="584.67" y="513.02" width="1.64" height="0.88" fill="#9CC88A"/>
<rect x="586.32" y="513.05" width="1.64" height="0.85" fill="#9CC88A"/>
<rect x="587.96" y="513.08" width="1.64" height="0.82" fill="#9CC88A"/>
<rect x="589.60" y="513.11" width="1.64" height="0.79" fill="#9CC88A"/>
<rect x="591.25" y="513.14" width="1.64" height="0.76" fill="#9CC88A"/>
<rect x="592.89" y="513.17" width="1.64" height="0.73" fill="#9CC88A"/>
<rect x="594.54" y="513.20" width="1.64" height="0.70" fill="#9CC88A"/>
<rect x="596.18" y="513.23" width="1.64" height="0.67" fill="#9CC88A"/>
<rect x="597.82" y="513.24" width="1.64" height="0.66" fill="#9CC88A"/>
<rect x="599.47" y="513.27" width="1.64" height="0.63" fill="#9CC88A"/>
<rect x="601.11" y="513.29" width="1.64" height="0.61" fill="#9CC88A"/>
<rect x="602.76" y="513.32" width="1.64" height="0.58" fill="#9CC88A"/>
<rect x="604.40" y="513.33" width="1.64" height="0.57" fill="#9CC88A"/>
<rect x="606.04" y="513.36" width="1.64" height="0.54" fill="#9CC88A"/>
<rect x="607.69" y="513.37" width="1.64" height="0.53" fill="#9CC88A"/>
<rect x="609.33" y="513.39" width="1.64" height="0.51" fill="#9CC88A"/>
<rect x="610.98" y="513.42" width="1.64" height="0.48" fill="#9CC88A"/>
<rect x="612.62" y="513.43" width="1.64" height="0.47" fill="#9CC88A"/>
<rect x="614.26" y="513.45" width="1.64" height="0.45" fill="#9CC88A"/>
<rect x="615.91" y="513.46" width="1.64" height="0.44" fill="#9CC88A"/>
<rect x="617.55" y="513.48" width="1.64" height="0.42" fill="#9CC88A"/>
<rect x="619.20" y="513.49" width="1.64" height="0.41" fill="#9CC88A"/>
<rect x="620.84" y="513.51" width="1.64" height="0.39" fill="#9CC88A"/>
<rect x="622.48" y="513.52" width="1.64" height="0.38" fill="#9CC88A"/>
<rect x="624.13" y="513.53" width="1.64" height="0.37" fill="#9CC88A"/>
<rect x="625.77" y="513.55" width="1.64" height="0.35" fill="#9CC88A"/>
<rect x="627.42" y="513.56" width="1.64" height="0.34" fill="#9CC88A"/>
<rect x="629.06" y="513.58" width="1.64" height="0.32" fill="#9CC88A"/>
<rect x="630.70" y="513.58" width="1.64" height="0.32" fill="#9CC88A"/>
<rect x="632.35" y="513.59" width="1.64" height="0.31" fill="#9CC88A"/>
<rect x="633.99" y="513.61" width="1.64" height="0.29" fill="#9CC88A"/>
<rect x="635.64" y="513.62" width="1.64" height="0.28" fill="#9CC88A"/>
<rect x="637.28" y="513.62" width="1.64" height="0.28" fill="#9CC88A"/>
<rect x="638.92" y="513.64" width="1.64" height="0.26" fill="#9CC88A"/>
<rect x="640.57" y="513.65" width="1.64" height="0.25" fill="#9CC88A"/>
<rect x="642.21" y="513.65" width="1.64" height="0.25" fill="#9CC88A"/>
<rect x="643.86" y="513.67" width="1.64" height="0.23" fill="#9CC88A"/>
<rect x="645.50" y="513.67" width="1.64" height="0.23" fill="#9CC88A"/>
<rect x="647.14" y="513.68" width="1.64" height="0.22" fill="#9CC88A"/>
<rect x="648.79" y="513.70" width="1.64" height="0.20" fill="#9CC88A"/>
<rect x="650.43" y="513.70" width="1.64" height="0.20" fill="#9CC88A"/>
<rect x="652.08" y="513.71" width="1.64" height="0.19" fill="#9CC88A"/>
<rect x="653.72" y="513.71" width="1.64" height="0.19" fill="#9CC88A"/>
<rect x="655.36" y="513.72" width="1.64" height="0.18" fill="#9CC88A"/>
<rect x="657.01" y="513.72" width="1.64" height="0.18" fill="#9CC88A"/>
<rect x="658.65" y="513.72" width="1.64" height="0.18" fill="#9CC88A"/>
<rect x="660.30" y="513.74" width="1.64" height="0.16" fill="#9CC88A"/>
<rect x="661.94" y="513.74" width="1.64" height="0.16" fill="#9CC88A"/>
<rect x="663.58" y="513.75" width="1.64" height="0.15" fill="#9CC88A"/>
<rect x="665.23" y="513.75" width="1.64" height="0.15" fill="#9CC88A"/>
<rect x="380.00" y="414.90" width="300.00" height="1.10" fill="#999999"/>
<rect x="380.00" y="517.85" width="300.00" height="1.10" fill="#7a7a7a"/>
<rect x="380.00" y="414.90" width="1.10" height="104.05" fill="#777777"/>
<rect x="678.90" y="414.90" width="1.10" height="104.05" fill="#808080"/>
<line x1="378.10" y1="513.90" x2="380.50" y2="513.90" stroke="#333333" stroke-width="1.0"/>
<text x="375.80" y="517.16" font-size="8.0" text-anchor="end" fill="#4D4D4D">0</text>
<line x1="378.10" y1="484.70" x2="380.50" y2="484.70" stroke="#333333" stroke-width="1.0"/>
<text x="375.80" y="487.96" font-size="8.0" text-anchor="end" fill="#4D4D4D">2000</text>
<line x1="378.10" y1="455.50" x2="380.50" y2="455.50" stroke="#333333" stroke-width="1.0"/>
<text x="375.80" y="458.76" font-size="8.0" text-anchor="end" fill="#4D4D4D">4000</text>
<line x1="378.10" y1="426.30" x2="380.50" y2="426.30" stroke="#333333" stroke-width="1.0"/>
<text x="375.80" y="429.56" font-size="8.0" text-anchor="end" fill="#4D4D4D">6000</text>
<line x1="432.60" y1="518.30" x2="432.60" y2="520.70" stroke="#333333" stroke-width="1.0"/>
<text x="432.60" y="529.00" font-size="7.8" text-anchor="middle" fill="#4D4D4D">50</text>
<line x1="514.80" y1="518.30" x2="514.80" y2="520.70" stroke="#333333" stroke-width="1.0"/>
<text x="514.80" y="529.00" font-size="7.8" text-anchor="middle" fill="#4D4D4D">100</text>
<line x1="597.00" y1="518.30" x2="597.00" y2="520.70" stroke="#333333" stroke-width="1.0"/>
<text x="597.00" y="529.00" font-size="7.8" text-anchor="middle" fill="#4D4D4D">150</text>
<line x1="679.20" y1="518.30" x2="679.20" y2="520.70" stroke="#333333" stroke-width="1.0"/>
<text x="677.40" y="529.00" font-size="7.8" text-anchor="middle" fill="#4D4D4D">200</text>
<text x="530.00" y="539.90" font-size="9.4" text-anchor="middle" fill="#000">Length</text>
<text x="354.60" y="466.80" font-size="9.75" text-anchor="middle" fill="#000" transform="rotate(-90 354.6 466.8)">Occurences</text>
</svg>
</body></html>
